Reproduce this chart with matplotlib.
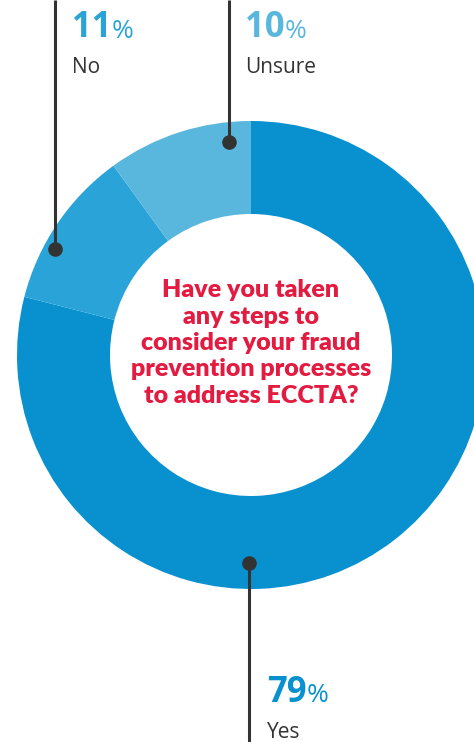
import matplotlib
matplotlib.use("Agg")
import matplotlib.pyplot as plt
import numpy as np

# Survey responses
categories = ["Yes", "No", "Unsure"]
shares = [79, 11, 10]
colors = ["#0891CE", "#2AA4D8", "#59B7DE"]
question = "Have you taken\nany steps to\nconsider your fraud\nprevention processes\nto address ECCTA?"

W, H = 474, 742
fig = plt.figure(figsize=(W / 100, H / 100), dpi=100)
ax = fig.add_axes([0, 0, 1, 1])

cx, cy = 251, H - 355
r_out, ring = 234, 93
ax.pie(shares, colors=colors, startangle=90, counterclock=False,
       center=(cx, cy), radius=r_out, frame=True,
       wedgeprops=dict(width=ring, linewidth=0))
ax.set_xlim(0, W)
ax.set_ylim(0, H)
ax.set_aspect("equal")
ax.axis("off")

ax.text(cx, cy + 12, question, ha="center", va="center", color="#E31B40",
        fontsize=18, fontweight="heavy", family="Lato", linespacing=1.25)

# Leader lines: x position, dot radius, label anchor (x, top of number), direction
leaders = {
    "No":     dict(x=55,  r=223, lx=72,  ly=H - 10, up=True),
    "Unsure": dict(x=229, r=214, lx=245, ly=H - 10, up=True),
    "Yes":    dict(x=249, r=208, lx=267, ly=H - 675, up=False),
}
line_col = "#333333"
fig.canvas.draw()
renderer = fig.canvas.get_renderer()
for cat, val, col in zip(categories, shares, colors):
    L = leaders[cat]
    dx = L["x"] - cx
    dy = np.sqrt(L["r"] ** 2 - dx ** 2)
    y_dot = cy + dy if L["up"] else cy - dy
    y_end = H if L["up"] else 0
    ax.plot([L["x"], L["x"]], [y_dot, y_end], color=line_col, lw=2.2,
            solid_capstyle="butt")
    ax.plot(L["x"], y_dot, "o", color=line_col, ms=9.5)
    num = ax.text(L["lx"], L["ly"], f"{val}", ha="left", va="top", color=col,
                  fontsize=25, fontweight="bold", family="Open Sans")
    bb = num.get_window_extent(renderer=renderer)
    x_pct = ax.transData.inverted().transform((bb.x1, bb.y0))[0]
    ax.text(x_pct, L["ly"] - 27.5, "%", ha="left", va="baseline", color=col,
            fontsize=19, family="Open Sans")
    ax.text(L["lx"], L["ly"] - 47, cat, ha="left", va="top", color="#333333",
            fontsize=15, family="Open Sans")

fig.savefig("out.png", dpi=100, facecolor="white")
